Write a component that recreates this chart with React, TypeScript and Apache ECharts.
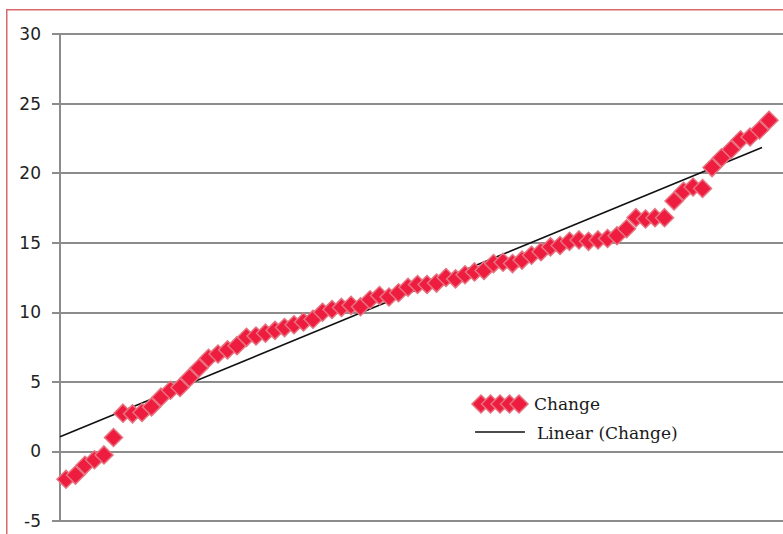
import React, { useEffect, useRef } from "react";
import * as echarts from "echarts";

// Values
const changeValues = [
  -2.0, -1.7, -1.0, -0.6, -0.25, 1.0, 2.75, 2.7, 2.8, 3.2,
  3.9, 4.4, 4.6, 5.3, 6.0, 6.7, 7.0, 7.3, 7.6, 8.2,
  8.3, 8.5, 8.7, 8.9, 9.1, 9.3, 9.5, 10.0, 10.2, 10.35,
  10.5, 10.4, 10.9, 11.2, 11.1, 11.4, 11.8, 12.0, 12.0, 12.1,
  12.5, 12.4, 12.7, 12.9, 13.0, 13.5, 13.6, 13.5, 13.75, 14.1,
  14.35, 14.7, 14.8, 15.1, 15.2, 15.1, 15.2, 15.3, 15.5, 16.0,
  16.8, 16.7, 16.8, 16.8, 18.0, 18.7, 19.0, 18.9, 20.4, 21.1,
  21.7, 22.4, 22.6, 23.1, 23.8,
];
const categories = changeValues.map((_, i) => i);
const trendX = [-0.63, 73.26];
const trendY = [1.05, 21.85];
const yTicks = [-5, 0, 5, 10, 15, 20, 25, 30];
const seriesNames = ["Change", "Linear (Change)"];

const RED = "#EE1C3F";
const RED_BORDER = "#E6727F";
const GRID = "#8C8C8C";

export default function App() {
  const ref = useRef<HTMLDivElement>(null);
  useEffect(() => {
    if (!ref.current) return;
    const chart = echarts.init(ref.current, undefined, { renderer: "svg" });
    const dia = (cx: number, cy: number, s: number) => [
      [cx, cy - s / 2],
      [cx + s / 2, cy],
      [cx, cy + s / 2],
      [cx - s / 2, cy],
    ];
    const legendDiamonds = [0, 1, 2, 3, 4].map((i) => ({
      type: "polygon",
      shape: { points: dia(481 + i * 9.5, 404, 18) },
      style: { fill: RED, stroke: RED_BORDER, lineWidth: 1.5 },
      z: 10,
    }));
    chart.setOption({
      animation: false,
      backgroundColor: "#fff",
      grid: { left: 60, right: 0, top: 34, bottom: 13, containLabel: false },
      xAxis: {
        type: "value",
        min: -0.63,
        max: 75.47,
        show: false,
      },
      yAxis: {
        type: "value",
        min: yTicks[0],
        max: yTicks[yTicks.length - 1],
        interval: yTicks[1] - yTicks[0],
        axisLine: { show: true, onZero: false, lineStyle: { color: GRID, width: 2 } },
        axisTick: { show: true, length: 8, lineStyle: { color: GRID, width: 2 } },
        splitLine: { show: true, lineStyle: { color: GRID, width: 2 } },
        axisLabel: {
          margin: 19,
          color: "#222",
          fontFamily: "DejaVu Sans",
          fontSize: 17,
        },
      },
      series: [
        {
          name: seriesNames[1],
          type: "line",
          data: trendX.map((x, i) => [x, trendY[i]]),
          showSymbol: false,
          symbol: "none",
          lineStyle: { color: "#111", width: 1.6 },
          z: 2,
        },
        {
          name: seriesNames[0],
          type: "scatter",
          data: categories.map((c, i) => [c, changeValues[i]]),
          symbol: "diamond",
          symbolSize: 18,
          itemStyle: { color: RED, borderColor: RED_BORDER, borderWidth: 1.5, opacity: 1 },
          z: 3,
        },
      ],
      graphic: [
        {
          type: "rect",
          shape: { x: 6.75, y: 9.75, width: 1000, height: 1000 },
          style: { fill: "none", stroke: "#D9696B", lineWidth: 1.5 },
          silent: true,
          z: 20,
        },
        ...legendDiamonds,
        {
          type: "text",
          x: 534,
          y: 404,
          style: {
            text: seriesNames[0],
            fill: "#1a1a1a",
            font: "17px 'DejaVu Serif'",
            textVerticalAlign: "middle",
            verticalAlign: "middle",
          },
          z: 10,
        },
        {
          type: "line",
          shape: { x1: 475, y1: 432, x2: 525, y2: 432 },
          style: { stroke: "#111", lineWidth: 1.6 },
          z: 10,
        },
        {
          type: "text",
          x: 537,
          y: 433,
          style: {
            text: seriesNames[1],
            fill: "#1a1a1a",
            font: "17px 'DejaVu Serif'",
            textVerticalAlign: "middle",
            verticalAlign: "middle",
          },
          z: 10,
        },
      ],
    });
    return () => chart.dispose();
  }, []);
  return (
    <div
      ref={ref}
      style={{ position: "fixed", left: 0, top: 0, width: 783, height: 534 }}
    />
  );
}
